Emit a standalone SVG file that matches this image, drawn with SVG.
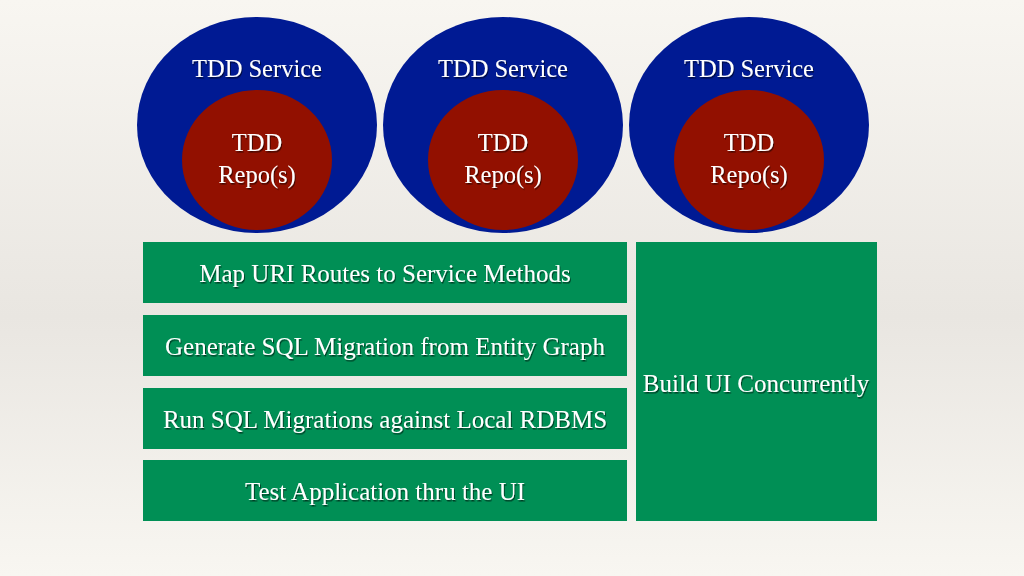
<svg xmlns="http://www.w3.org/2000/svg" width="1024" height="576" viewBox="0 0 1024 576">
  <defs>
    <linearGradient id="bg" x1="0" y1="0" x2="0" y2="1">
      <stop offset="0" stop-color="#f8f6f1"/>
      <stop offset="0.55" stop-color="#e9e6e1"/>
      <stop offset="1" stop-color="#f8f6f1"/>
    </linearGradient>
    <filter id="sh" x="-10%" y="-30%" width="120%" height="160%">
      <feDropShadow dx="1" dy="1.5" stdDeviation="0.7" flood-color="#000" flood-opacity="0.55"/>
    </filter>
  </defs>
  <style>
    .svc { fill: #001a93; }
    .repo { fill: #921000; }
    .box { fill: #008f55; }
    .t { font-family: "Liberation Serif", "DejaVu Serif", serif; fill: #ffffff; text-anchor: middle; filter: url(#sh); }
    .s { font-size: 24.5px; }
    .b { font-size: 25px; }
  </style>
  <rect width="1024" height="576" fill="url(#bg)"/>

  <g id="service1">
    <ellipse class="svc" cx="257" cy="125" rx="120" ry="108"/>
    <ellipse class="repo" cx="257" cy="160" rx="75" ry="70"/>
    <text class="t s" x="257" y="77">TDD Service</text>
    <text class="t s" x="257" y="151">TDD</text>
    <text class="t s" x="257" y="183">Repo(s)</text>
  </g>
  <g id="service2">
    <ellipse class="svc" cx="503" cy="125" rx="120" ry="108"/>
    <ellipse class="repo" cx="503" cy="160" rx="75" ry="70"/>
    <text class="t s" x="503" y="77">TDD Service</text>
    <text class="t s" x="503" y="151">TDD</text>
    <text class="t s" x="503" y="183">Repo(s)</text>
  </g>
  <g id="service3">
    <ellipse class="svc" cx="749" cy="125" rx="120" ry="108"/>
    <ellipse class="repo" cx="749" cy="160" rx="75" ry="70"/>
    <text class="t s" x="749" y="77">TDD Service</text>
    <text class="t s" x="749" y="151">TDD</text>
    <text class="t s" x="749" y="183">Repo(s)</text>
  </g>

  <g id="step1">
    <rect class="box" x="143" y="242" width="484" height="61"/>
    <text class="t b" x="385" y="282">Map URI Routes to Service Methods</text>
  </g>
  <g id="step2">
    <rect class="box" x="143" y="315" width="484" height="61"/>
    <text class="t b" x="385" y="355">Generate SQL Migration from Entity Graph</text>
  </g>
  <g id="step3">
    <rect class="box" x="143" y="388" width="484" height="61"/>
    <text class="t b" x="385" y="428">Run SQL Migrations against Local RDBMS</text>
  </g>
  <g id="step4">
    <rect class="box" x="143" y="460" width="484" height="61"/>
    <text class="t b" x="385" y="500">Test Application thru the UI</text>
  </g>
  <g id="buildui">
    <rect class="box" x="636" y="242" width="241" height="279"/>
    <text class="t b" x="756" y="392">Build UI Concurrently</text>
  </g>
  <g id="connectors"/>
</svg>
